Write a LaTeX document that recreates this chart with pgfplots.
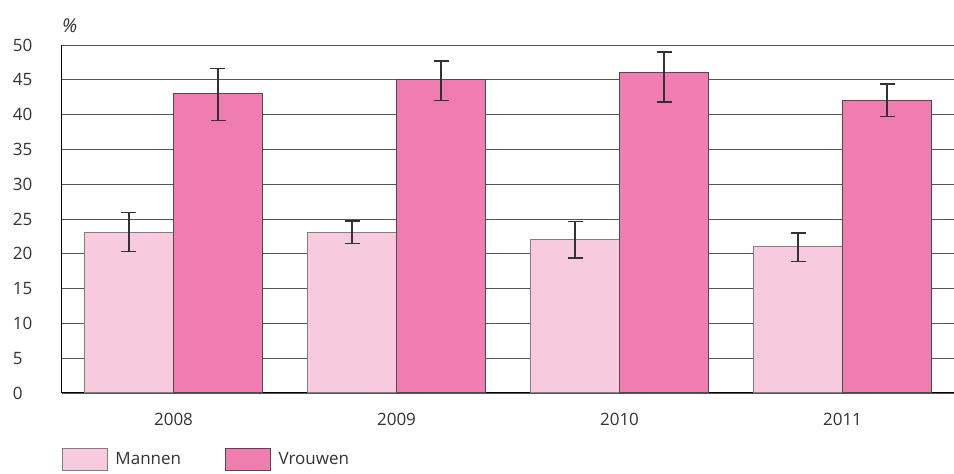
\documentclass[border=0pt]{standalone}
\usepackage{fontspec}
\setmainfont{Open Sans}
\usepackage{pgfplots}
\pgfplotsset{compat=1.18}
\definecolor{mlight}{RGB}{247,202,222}
\definecolor{vdark}{RGB}{240,125,175}
\definecolor{gridc}{RGB}{85,85,85}
\definecolor{errc}{RGB}{50,50,50}
\begin{document}
\fontsize{17pt}{20pt}\selectfont
\begin{tikzpicture}
\begin{axis}[
  at={(0,0)}, anchor=south west,
  scale only axis, width=892pt, height=348pt,
  xmin=-0.5, xmax=3.5, ymin=0, ymax=50,
  ybar=0pt, bar width=89pt,
  xtick={0,1,2,3}, xticklabels={2008,2009,2010,2011},
  ytick={0,5,...,50},
  ymajorgrids, grid style={gridc, line width=0.9pt},
  axis x line*=bottom, axis y line*=left,
  axis line style={black, line width=1pt, -},
  major tick length=0pt,
  /pgf/number format/assume math mode=true,
  tick label style={font=\fontsize{17pt}{20pt}\selectfont, text=black!80},
  yticklabel style={anchor=west, xshift=-55pt},
  xticklabel style={yshift=-14pt},
  legend columns=2,
  legend image code/.code={\draw[#1] (0pt,-11pt) rectangle (45pt,11pt); \path[draw=none] (0pt,0pt) -- (51pt,0pt);},
  legend style={at={(0,-0.1925)}, anchor=west, draw=none, fill=none, inner sep=0pt, outer sep=0pt,
    font=\fontsize{17pt}{20pt}\selectfont, text=black!80,
    /tikz/every even column/.append style={column sep=42pt}},
  error bars/y dir=both, error bars/y explicit,
  error bars/error bar style={errc, line width=1.3pt},
  error bars/error mark options={rotate=90, mark size=7.5pt, errc, line width=1.3pt},
]
\addplot[fill=mlight, draw=black!50, line width=1pt]
  table[x=x, y=y, y error plus=ep, y error minus=em] {
x y ep em
0 23 2.9 2.7
1 23 1.7 1.5
2 22 2.6 2.6
3 21 2.0 2.1
};
\addplot[fill=vdark, draw=black!70, line width=1pt]
  table[x=x, y=y, y error plus=ep, y error minus=em] {
x y ep em
0 43 3.6 3.8
1 45 2.7 3.0
2 46 3.0 4.2
3 42 2.4 2.3
};
\legend{Mannen, Vrouwen}
\end{axis}
\node[anchor=west, inner sep=0pt, text=black!80, font=\fontsize{19pt}{22pt}\selectfont\itshape] at (0pt,367pt) {\%};
\pgfresetboundingbox
\path[use as bounding box] (-62pt,-81pt) rectangle (892pt,393pt);
\end{tikzpicture}
\end{document}
